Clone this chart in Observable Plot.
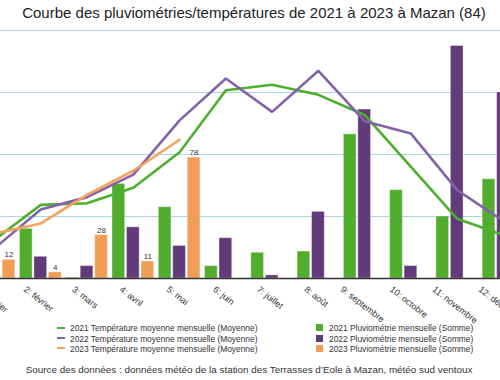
<!DOCTYPE html>
<html><head><meta charset="utf-8">
<script src="https://cdn.jsdelivr.net/npm/d3@7"></script>
<script src="https://cdn.jsdelivr.net/npm/@observablehq/plot@0.6"></script>
<style>
body{margin:0;background:#fff;font-family:"Liberation Sans",Arial,sans-serif;color:#333;}
#wrap{position:relative;width:500px;height:380px;overflow:hidden;background:#fff;}
#title{position:absolute;left:0;top:4px;width:508px;text-align:center;font-size:15px;color:#222;white-space:nowrap;}
#chart{position:absolute;left:0;top:28px;width:500px;overflow:hidden;}
.row{position:absolute;font-size:8.4px;color:#333;white-space:nowrap;height:10px;line-height:10px;}
.sw-line{display:inline-block;width:8px;height:2px;vertical-align:middle;margin-right:5px;position:relative;top:-1px;}
.sw-box{display:inline-block;width:7px;height:7px;vertical-align:middle;margin-right:6px;position:relative;top:-1px;}
#caption{position:absolute;left:0;top:364px;width:498px;text-align:center;font-size:9.9px;color:#333;white-space:nowrap;}
</style></head>
<body>
<div id="wrap">
  <div id="title">Courbe des pluviométries/températures de 2021 à 2023 à Mazan (84)</div>
  <div id="chart"></div>
  <div id="legend"></div>
  <div id="caption">Source des données : données météo de la station des Terrasses d’Eole à Mazan, météo sud ventoux</div>
</div>
<script>
// ---- data ----
const months = ["1: janvier","2: février","3: mars","4: avril","5: mai","6: juin","7: juillet","8: août","9: septembre","10: octobre","11: novembre","12: décembre"];
const years = ["2021","2022","2023"];
const rain2021 = [20, 32, 0.5, 61, 46, 8, 16.6, 17.4, 93, 57, 40, 64];
const rain2022 = [1.5, 14, 8, 33, 21, 26, 2, 43, 109, 8, 150, 120];
const rain2023 = [12, 4, 28, 11, 78];
const temp2021 = [5.0, 9.5, 9.7, 11.7, 16.3, 24.3, 25.0, 23.7, 21.1, 14.4, 7.7, 5.6];
const temp2022 = [3.9, 8.9, 10.5, 13.4, 20.4, 25.8, 21.5, 26.8, 20.3, 18.7, 11.4, 7.4];
const temp2023 = [5.8, 7.1, 10.8, 13.9, 17.9];
const gridTicks = [40, 80, 120, 160];

const barColors = {"2021": "#52ad2f", "2022": "#633a79", "2023": "#f09d55"};
const lineColors = {"2021": "#4db02c", "2022": "#8361ab", "2023": "#f4a25c"};
const barOffset = {"2021": -0.313, "2022": 0, "2023": 0.313};
const halfW = 0.137;
const mmPerDeg = 5; // secondary axis: 32 °C <-> 160 mm

const rainSeries = [rain2021, rain2022, rain2023];
const tempSeries = [temp2021, temp2022, temp2023];
const rainData = years.map((y, i) => rainSeries[i].map((v, j) => ({year: y, m: j + 1, v})));
const tempData = years.map((y, i) => tempSeries[i].map((t, j) => ({year: y, m: j + 1, t})));

const plot = Plot.plot({
  width: 500, height: 300,
  marginTop: 2, marginBottom: 50, marginLeft: 0, marginRight: 0,
  style: {fontFamily: "Liberation Sans, Arial, sans-serif", fontSize: "9px", color: "#333", background: "transparent"},
  x: {type: "linear", domain: [1, 12], range: [-6, 503], axis: null},
  y: {domain: [0, 160], axis: null},
  marks: [
    Plot.ruleY(gridTicks, {stroke: "#a9d6e7", strokeWidth: 1}),
    ...years.map((y, i) => Plot.rectY(rainData[i], {
      x1: d => d.m + barOffset[d.year] - halfW,
      x2: d => d.m + barOffset[d.year] + halfW,
      y1: 0, y2: "v",
      fill: barColors[y], stroke: "white", strokeOpacity: 0.35, strokeWidth: 1
    })),
    Plot.ruleY([0], {stroke: "#333", strokeWidth: 1.5}),
    ...years.map((y, i) => Plot.line(tempData[i], {
      x: "m", y: d => d.t * mmPerDeg,
      stroke: lineColors[y], strokeWidth: 2.6, strokeLinejoin: "miter"
    })),
    Plot.text(rainData[2], {
      x: d => d.m + barOffset[d.year], y: "v", text: d => String(d.v),
      dy: -5, fontSize: 8, fill: "#333"
    }),
    Plot.text(months, {
      x: (d, i) => i + 1, frameAnchor: "bottom", text: d => d,
      rotate: 38, textAnchor: "start", lineAnchor: "top", dy: 7,
      fontSize: 9, fill: "#333"
    })
  ]
});
document.getElementById("chart").appendChild(plot);

// center rotated month labels horizontally on their tick
const cosA = Math.cos(38 * Math.PI / 180);
plot.querySelectorAll('text[transform*="rotate"]').forEach(t => {
  const L = t.getComputedTextLength();
  const m = /translate\(([-\d.e]+),\s*([-\d.e]+)\)/.exec(t.getAttribute("transform"));
  if (m) t.setAttribute("transform", `translate(${+m[1] - L * cosA / 2},${m[2]}) rotate(38)`);
});

// legend
const legend = document.getElementById("legend");
const rowTops = [323, 333.5, 343.5];
years.forEach((y, i) => {
  const a = document.createElement("div");
  a.className = "row"; a.style.left = "57px"; a.style.top = rowTops[i] + "px";
  a.innerHTML = `<span class="sw-line" style="background:${lineColors[y]}"></span>${y} Température moyenne mensuelle (Moyenne)`;
  legend.appendChild(a);
  const b = document.createElement("div");
  b.className = "row"; b.style.left = "316px"; b.style.top = rowTops[i] + "px";
  b.innerHTML = `<span class="sw-box" style="background:${barColors[y]}"></span>${y} Pluviométrie mensuelle (Somme)`;
  legend.appendChild(b);
});
</script>
</body></html>
